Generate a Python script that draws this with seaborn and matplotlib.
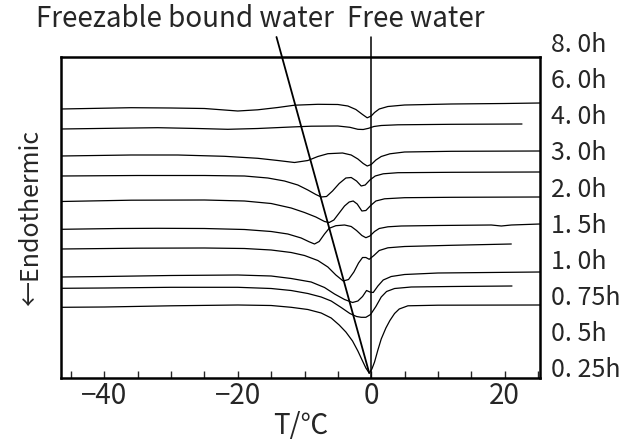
import numpy as np
import pandas as pd
import seaborn as sns
import matplotlib.pyplot as plt
from matplotlib.ticker import MultipleLocator

# DSC heating curves, heat flow in arbitrary units (endothermic = larger value, drawn downward)
t_8h = [-46.5, -36, -30, -25, -20, -17, -14, -11.5, -8, -5, -3.5, -2.3, -1.3, -0.6, 0, 0.5, 1.2, 2.5, 5, 12, 20, 25.3]
q_8h = [109, 107.7, 108, 108.5, 111, 109.8, 107.5, 105.2, 104.3, 104.5, 106, 109.5, 114.5, 117.8, 116, 112.5, 109, 106.5, 105, 104, 103.5, 103]

t_6h = [-46.5, -38, -32, -26, -21.5, -17, -12, -9, -5, -3.2, -2, -1.2, -0.4, 0.4, 1.5, 4, 12, 22.6]
q_6h = [129, 128.2, 127.7, 128.5, 129.3, 128.5, 127, 126.2, 126, 127.3, 129.3, 129.5, 128.3, 126.5, 125.5, 124.8, 124.3, 124]

t_4h = [-46.5, -36, -29, -22, -17, -14, -11.5, -9.5, -8, -6.5, -4.3, -3, -2, -1.2, -0.6, 0, 0.7, 1.5, 2.8, 5, 12, 25.3]
q_4h = [156, 155, 155, 156.3, 158.3, 160.5, 162.5, 160.5, 156.5, 153.7, 153, 155, 159, 163.5, 166, 164.5, 160, 156.5, 153.8, 152, 151.3, 151]

t_3h = [-46.5, -35, -25, -19, -15.5, -13, -11, -9.5, -8.3, -7.5, -6.7, -5.8, -4.8, -3.8, -3, -2.2, -1.5, -0.9, -0.2, 0.6, 1.8, 4, 12, 25.3]
q_3h = [176, 175.5, 175.5, 176, 178, 181, 185, 190, 194.5, 197, 196.5, 191, 183.5, 178, 177.5, 181, 186, 185, 180, 176, 173.8, 172.7, 172.3, 172]

t_2h = [-46.5, -36, -25, -19, -15, -12, -10, -8.3, -7, -6.3, -5.6, -4.8, -4, -3.3, -2.7, -2.1, -1.4, -0.8, 0, 0.7, 2, 5, 12, 25.3]
q_2h = [201.5, 200.2, 200, 201, 203.5, 208, 212.5, 217, 221.5, 222.5, 220, 213, 206, 202, 201, 204, 211, 210.5, 205, 201, 198.8, 197.7, 197.3, 197]

t_15h = [-46.5, -38, -32, -25, -19, -15, -12.5, -10.5, -9.3, -8.5, -7.8, -7, -6.3, -5.3, -4, -3, -2.2, -1.4, -0.8, -0.2, 0.5, 1.2, 2.5, 4.5, 10, 18, 19.5, 21, 25.3]
q_15h = [229.3, 228.5, 228.3, 228.5, 229.5, 231.5, 234, 238, 241.8, 244, 241.5, 234, 228.3, 225.7, 225, 226.5, 230.5, 235.5, 237.7, 236, 231.5, 228.5, 226.8, 226, 225.5, 225, 226, 225, 224]

t_1h = [-46.5, -35, -25, -19, -15, -12, -10, -8, -6.5, -5.3, -4.2, -3.4, -2.6, -1.9, -1.3, -0.8, -0.3, 0.4, 1.2, 2.5, 5, 12, 21]
q_1h = [249, 248.2, 248, 248.5, 250, 252.5, 255.5, 260.5, 267, 275, 281, 279.5, 272, 263, 257.5, 257.5, 259.3, 255.5, 250.5, 247.8, 246.5, 245.3, 244]

t_075h = [-46.5, -40, -30, -20, -15, -12, -9, -7, -5.5, -4, -2.8, -2, -1.3, -0.7, -0.2, 0.3, 1, 1.8, 3, 5, 10, 25.3]
q_075h = [277, 276.5, 275.5, 275, 276, 278.5, 282, 287.5, 294, 299.5, 302.5, 301, 296.5, 290.5, 292, 292.5, 286, 280, 276.5, 274.5, 273, 272]

t_05h = [-46.5, -40, -30, -20, -15, -12, -9.5, -7.5, -6, -4.5, -3.2, -2.2, -1.5, -0.8, -0.1, 0.7, 1.5, 2.3, 3.5, 6, 12, 21.1]
q_05h = [288.3, 288, 287.3, 287.3, 288.5, 290.5, 293.5, 297, 301, 307.5, 313.5, 316.5, 317.3, 317.3, 314.5, 306.5, 297, 291.5, 288.5, 287, 286.5, 286]

t_025h = [-46.5, -40, -30, -20, -15, -12, -9.5, -7.5, -6, -4.8, -3.8, -2.8, -2, -1.3, -0.8, -0.3, 0.1, 0.5, 1, 1.5, 2.2, 2.8, 3.5, 4.2, 5.5, 10, 25.3]
q_025h = [307.3, 307, 305.8, 305, 305.5, 307.3, 309.5, 313, 318, 325, 332, 341, 351, 361, 368, 373, 369, 362, 350, 339, 328, 320.5, 313.5, 309, 305.8, 305.2, 305]

hour_labels = ['8. 0h', '6. 0h', '4. 0h', '3. 0h', '2. 0h', '1. 5h', '1. 0h', '0. 75h', '0. 5h', '0. 25h']

# guide lines: freezable bound water peak trend and free water (0 degC)
bound_t = [-14.2, -0.3]
bound_q = [37, 373]
free_t = [0, 0]
free_q = [37, 378]

curves = [(t_8h, q_8h), (t_6h, q_6h), (t_4h, q_4h), (t_3h, q_3h), (t_2h, q_2h),
          (t_15h, q_15h), (t_1h, q_1h), (t_075h, q_075h), (t_05h, q_05h), (t_025h, q_025h)]

sns.set_style("white")
plt.rcParams['font.family'] = ['Noto Sans CJK JP', 'DejaVu Sans']

fig = plt.figure(figsize=(6.32, 4.45), dpi=100)
ax = fig.add_axes([61 / 632, 67 / 445, 479 / 632, 321 / 445])

for t, q in curves:
    sns.lineplot(x=t, y=q, ax=ax, color='black', linewidth=0.9, estimator=None, sort=False)

ax.plot(bound_t, bound_q, color='black', linewidth=1.3, clip_on=False)
ax.plot(free_t, free_q, color='black', linewidth=1.1, clip_on=False)

ax.set_xlim(-46.5, 25.3)
ax.set_ylim(378, 57)
ax.set_xticks([-40, -20, 0, 20])
ax.xaxis.set_minor_locator(MultipleLocator(5))
ax.set_yticks([])
ax.tick_params(axis='x', which='both', direction='in', bottom=True, top=False, length=5, width=1)
ax.tick_params(axis='x', labelsize=20, pad=2)
for s in ax.spines.values():
    s.set_linewidth(1.8)
    s.set_color('black')

ax.set_xlabel('T/℃', fontsize=20, labelpad=0)
ax.set_ylabel('←Endothermic', fontsize=18, labelpad=12)

for lab, yf in zip(hour_labels, np.linspace(1.037, 0.025, len(hour_labels))):
    ax.text(1.022, yf, lab, transform=ax.transAxes, fontsize=18, ha='left', va='center')

fig.text(0.293, 0.958, 'Freezable bound water', fontsize=20, ha='center', va='center')
fig.text(0.658, 0.958, 'Free water', fontsize=20, ha='center', va='center')

fig.savefig('out.png', dpi=100)
